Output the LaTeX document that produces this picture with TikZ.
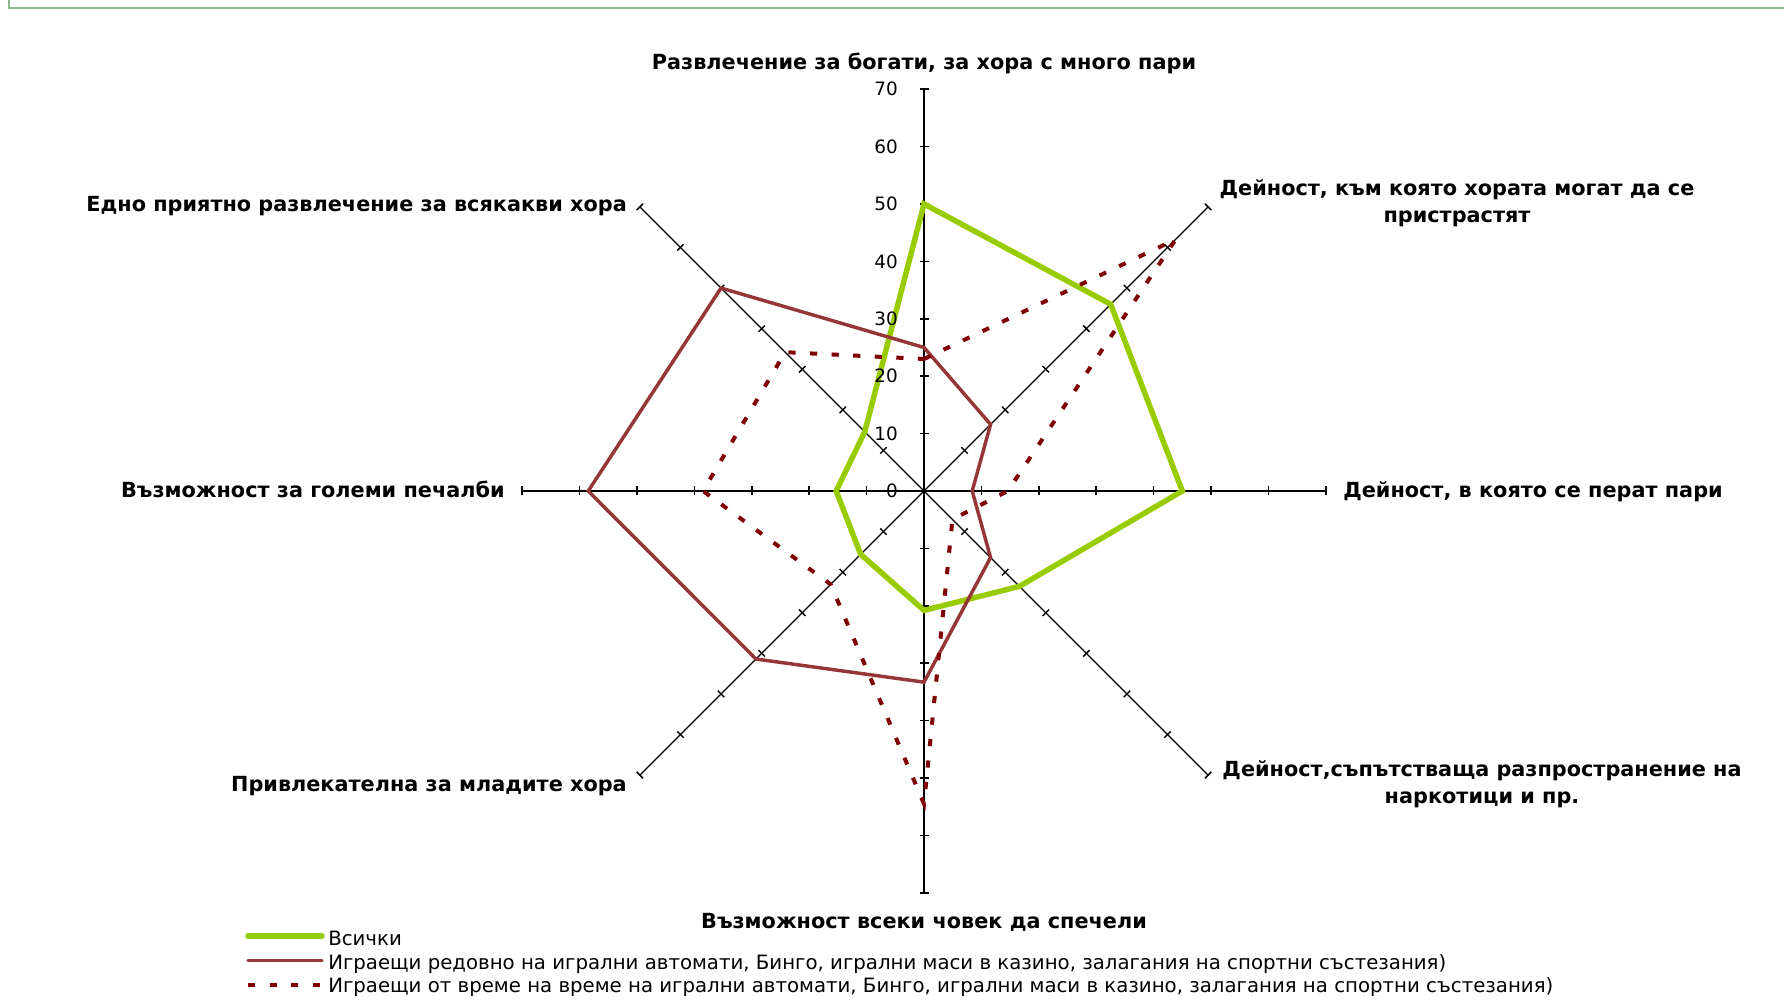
\documentclass[tikz,border=0pt]{standalone}
\usepackage{fontspec}
\setmainfont{DejaVu Sans}
\definecolor{serA}{RGB}{153,204,0}
\definecolor{serB}{RGB}{150,55,55}
\definecolor{serC}{RGB}{128,0,0}
\definecolor{framec}{RGB}{140,185,140}
\begin{document}
\begin{tikzpicture}[x=0.75pt,y=0.75pt,
  axis/.style={black,line width=1.3pt},
  diagaxis/.style={black,line width=1pt},
  tickmark/.style={black,line width=1.1pt},
  catlab/.style={inner sep=0pt,font=\fontsize{15.6}{20.5}\selectfont\bfseries},
  vallab/.style={inner sep=0pt,anchor=east,font=\fontsize{13.8}{15}\selectfont},
  leglab/.style={inner sep=0pt,anchor=base west,font=\fontsize{14.8}{17}\selectfont},
  serAsty/.style={draw=serA,line width=4.1pt},
  serBsty/.style={draw=serB,line width=2.6pt},
  serCsty/.style={draw=serC,line width=3pt,dash pattern=on 5.4pt off 10.8pt}]
\useasboundingbox (0,0) rectangle (1784,1000);
\clip (0,0) rectangle (1784,1000);
\def\rU{5.74}
% frame
\draw[framec,line width=1.5pt] (9,1000) -- (9,991.5) -- (1784,991.5);
% axes
\foreach \a/\sty in {90/axis,0/axis,-90/axis,180/axis,45/diagaxis,-45/diagaxis,-135/diagaxis,135/diagaxis}{
  \begin{scope}[shift={(924,509)},rotate=\a]
    \draw[\sty] (0,0) -- (401.8,0);
    \foreach \r in {1,...,7} \draw[tickmark] (\r*57.4,-4.5) -- (\r*57.4,4.5);
  \end{scope}
}
\coordinate (C) at (924,509);
% series
\begin{scope}[shift={(924,509)}]
  \draw[serAsty] (90:{50*\rU}) -- (45:{46*\rU}) -- (0:{45*\rU}) -- (-45:{23.5*\rU}) -- (-90:{20.8*\rU}) -- (-135:{15.6*\rU}) -- (180:{15.3*\rU}) -- (135:{14.6*\rU}) -- cycle;
  \draw[serBsty] (90:{25*\rU}) -- (45:{16.4*\rU}) -- (0:{8.4*\rU}) -- (-45:{16.4*\rU}) -- (-90:{33.3*\rU}) -- (-135:{41.4*\rU}) -- (180:{58.5*\rU}) -- (135:{50*\rU}) -- cycle;
  \draw[serCsty] (90:{23*\rU}) -- (45:{62*\rU}) -- (0:{14.6*\rU}) -- (-45:{7*\rU}) -- (-90:{54.5*\rU}) -- (-135:{23*\rU}) -- (180:{38.5*\rU}) -- (135:{34.2*\rU}) -- cycle;
\end{scope}
% value labels
\foreach \k in {0,...,7}{
  \node[vallab] (v\k) at (898,{509+57.4*\k}) {\the\numexpr\k*10\relax};
}
% category labels
\node[catlab,anchor=base] (lab0) at (924,930.5) {Развлечение за богати, за хора с много пари};
\node[catlab,align=center,anchor=center] (lab1) at (1457,797) {Дейност, към която хората могат да се\\пристрастят};
\node[catlab,anchor=base west] (lab2) at (1343,502) {Дейност, в която се перат пари};
\node[catlab,align=center,anchor=center] (lab3) at (1482,216) {Дейност,съпътстваща разпространение на\\наркотици и пр.};
\node[catlab,anchor=base] (lab4) at (924,71.4) {Възможност всеки човек да спечели};
\node[catlab,anchor=base east] (lab5) at (627,209) {Привлекателна за младите хора};
\node[catlab,anchor=base east] (lab6) at (505,502) {Възможност за големи печалби};
\node[catlab,anchor=base east] (lab7) at (627,788) {Едно приятно развлечение за всякакви хора};
% legend
\coordinate (la1) at (248,64); \coordinate (lb1) at (322,64);
\coordinate (la2) at (248,39.3); \coordinate (lb2) at (322,39.3);
\coordinate (la3) at (248,15); \coordinate (lb3) at (322,15);
\draw[serAsty,line cap=round] (la1) -- (lb1);
\draw[serBsty,line cap=round] (la2) -- (lb2);
\draw[serCsty] (la3) -- (lb3);
\node[leglab] (leg1) at (328,55) {Всички};
\node[leglab] (leg2) at (328,31) {Играещи редовно на игрални автомати, Бинго, игрални маси в казино, залагания на спортни състезания)};
\node[leglab] (leg3) at (328,7.5) {Играещи от време на време на игрални автомати, Бинго, игрални маси в казино, залагания на спортни състезания)};
\end{tikzpicture}
\end{document}
